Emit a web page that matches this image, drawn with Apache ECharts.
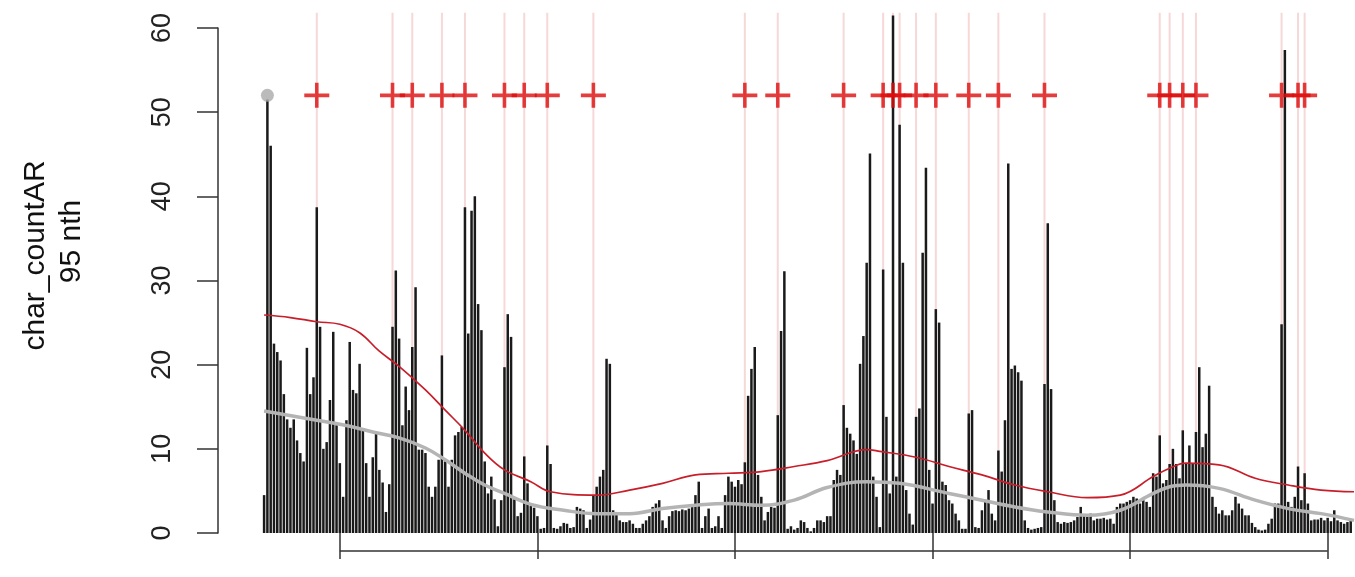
<!DOCTYPE html>
<html>
<head>
<meta charset="utf-8">
<script src="https://cdn.jsdelivr.net/npm/echarts@6.0.0/dist/echarts.min.js"></script>
<style>
  html, body { margin: 0; padding: 0; background: #ffffff; }
  #chart { width: 1355px; height: 577px; }
</style>
</head>
<body>
<div id="chart"></div>
<script>
// first day number of the series; bar i sits at FIRST_DAY + i
const FIRST_DAY = 37;

// char_countAR 95th percentile per day
const charCount95 = [
  4.5, 51.5, 46, 22.5, 21.5, 20.5, 16.5, 13.5, 12.5, 13.5,
  11, 9.5, 8.5, 22, 16.5, 18.5, 38.7, 24.5, 10, 10.8,
  15.8, 23.9, 12.8, 8.3, 4.3, 13.4, 22.7, 17, 16.6, 20.1,
  12.2, 8.3, 4.3, 9, 12, 7.5, 6, 2.5, 5.8, 24.5,
  31.2, 23.1, 12.8, 17.4, 14.6, 22.1, 29.2, 9.9, 9.9, 9.5,
  5.5, 4.3, 5.5, 8.7, 21.1, 8.5, 5.5, 8.7, 11.6, 12,
  12.6, 38.7, 23.7, 38.3, 40, 27.2, 24.1, 8.5, 4.7, 6.7,
  4, 0.8, 3.9, 19.7, 26, 23.3, 4, 2, 2.4, 9.1,
  5.9, 3.2, 3, 2, 0.5, 0.6, 10.4, 8.2, 0.6, 0.5,
  0.8, 1.2, 1.1, 0.6, 0.7, 3.1, 2.9, 2.7, 0.6, 1.6,
  4.5, 5.5, 6.7, 7.5, 20.7, 20.1, 2.7, 2.5, 1.5, 1.3,
  1.3, 1.5, 1.1, 0.6, 0.6, 1.1, 1.5, 2, 3.1, 3.5,
  3.9, 1.5, 0.6, 2, 2.6, 2.7, 2.6, 2.8, 2.7, 2.9,
  3.3, 4.5, 6.1, 0.6, 2, 2.9, 0.6, 0.8, 2, 0.6,
  4.5, 6.7, 6.1, 5.5, 6.3, 5.8, 8.4, 16.3, 19.5, 22.1,
  6.9, 4.3, 1.5, 2.5, 3.1, 3, 14, 24, 31.1, 0.5,
  0.8, 0.4, 0.6, 1.5, 1.3, 0.6, 0.2, 0.6, 1.5, 1.5,
  1.3, 2, 2, 6.3, 7.5, 6.9, 15.2, 12.5, 11.8, 11,
  9.4, 20.1, 23.4, 32.1, 45.1, 6.7, 4.3, 0.7, 31.3, 13.8,
  4.7, 61.5, 6.7, 48.5, 32.1, 5.1, 2.3, 1, 13.8, 14.8,
  33.3, 43.4, 7.5, 3.5, 26.6, 25, 6.1, 5.7, 3.9, 3.5,
  2.3, 1.5, 0.5, 0.5, 14.2, 14.6, 0.7, 0.6, 2.7, 3.7,
  5.1, 2.3, 1.5, 9.8, 7.3, 13.4, 43.9, 19.5, 19.9, 19.1,
  18.1, 1.5, 0.6, 0.4, 0.5, 0.6, 0.7, 17.7, 36.8, 17.1,
  3.9, 1.3, 1.1, 1.3, 1.2, 1.3, 1.5, 1.9, 3.1, 2.1,
  1.9, 2.3, 1.5, 1.7, 1.7, 1.8, 1.6, 1.7, 1.1, 3.1,
  3.5, 3.5, 3.7, 3.9, 4.3, 4.1, 3.5, 3.9, 3.7, 3.1,
  7.1, 6.7, 11.6, 5.9, 6.3, 8.2, 10, 8.2, 6.5, 12.2,
  8.2, 10.4, 8.2, 12, 19.7, 10.2, 11.8, 17.5, 4.3, 3.1,
  2.3, 2.7, 2.1, 2.1, 2.7, 4.3, 3.5, 2.9, 2.1, 2.1,
  1.2, 0.7, 0.4, 0.3, 0.4, 1.1, 1.7, 3.5, 3.5, 24.8,
  57.4, 3.7, 3.1, 4.3, 7.9, 3.9, 7.1, 3.5, 1.5, 1.6,
  1.6, 1.8, 1.5, 1.8, 1.4, 2.7, 1.5, 1.3, 1.1, 1.3,
  1.5
];

// days flagged with a red cross and a pale guide line
const flaggedDays = [
  53, 76, 82, 91, 98, 110, 116, 123, 137,
  183, 193, 213, 225, 228, 230, 235, 241, 251, 260, 274,
  309, 312, 316, 320, 346, 351, 353
];
const FLAG_LEVEL = 52;
const GUIDE_TOP = 61.8;

// highlighted day (grey dot)
const peakDay = [38, 52];

// smoothed upper band (red) and smoothed mean (grey)
const upperDays = [37, 45, 53, 60, 66, 72, 78, 86, 92, 98, 104, 110, 118, 124, 138, 148, 158, 168, 178, 188, 198, 208, 220, 224, 235, 245, 255, 265, 275, 287, 297, 307, 312, 317, 327, 338, 348, 358, 368];
const upperVals = [25.9, 25.6, 25.1, 24.8, 23.8, 21.6, 19.8, 17, 14.6, 12.2, 9.5, 7.5, 6.1, 4.9, 4.5, 5.1, 5.9, 6.9, 7.1, 7.3, 7.9, 8.6, 9.9, 9.7, 9.0, 7.9, 6.9, 5.7, 4.9, 4.2, 4.5, 6.7, 7.7, 8.3, 8.1, 6.5, 5.7, 5.1, 4.9];
const meanDays = [37, 53, 64, 70, 78, 86, 92, 98, 104, 110, 118, 128, 138, 148, 158, 168, 178, 188, 198, 208, 220, 230, 245, 255, 265, 275, 287, 297, 307, 312, 317, 327, 338, 348, 358, 368];
const meanVals = [14.5, 13.4, 12.6, 12, 11.3, 10.1, 8.7, 7.1, 5.7, 4.7, 3.4, 2.7, 2.3, 2.3, 2.9, 3.3, 3.5, 3.3, 3.9, 5.4, 6.1, 5.9, 4.7, 3.9, 3.1, 2.5, 2.1, 2.7, 4.7, 5.5, 5.7, 5.3, 3.9, 2.9, 2.3, 1.5];

// axis ticks
const xTicks = [60, 120, 180, 240, 300, 360];
const yTicks = [0, 10, 20, 30, 40, 50, 60];

const FONT = "'Liberation Sans', Arial, Helvetica, sans-serif";
const AXIS_COLOR = '#333333';

const barData = charCount95.map((v, i) => [FIRST_DAY + i, v]);
const flagData = flaggedDays.map(d => [d, FLAG_LEVEL]);
const upperData = upperDays.map((d, i) => [d, upperVals[i]]);
const meanData = meanDays.map((d, i) => [d, meanVals[i]]);

const plusPath = 'path://M0,10.7 L25,10.7 L25,14.3 L0,14.3 Z M10.7,0 L14.3,0 L14.3,25 L10.7,25 Z';

const chart = echarts.init(document.getElementById('chart'), null, { renderer: 'canvas' });

chart.setOption({
  animation: false,
  backgroundColor: '#ffffff',
  grid: { left: 218, right: 0, top: 28, bottom: 44, containLabel: false, outerBoundsMode: 'none' },
  xAxis: {
    type: 'value',
    min: 23,
    max: 368.3,
    offset: 18,
    splitLine: { show: false },
    axisLine: { show: false },
    axisLabel: { show: false },
    axisTick: {
      show: true,
      customValues: xTicks,
      length: 26,
      lineStyle: { color: AXIS_COLOR, width: 1.5 }
    }
  },
  yAxis: {
    type: 'value',
    min: 0,
    max: 60,
    interval: 10,
    splitLine: { show: false },
    axisLine: { show: true, lineStyle: { color: AXIS_COLOR, width: 1.5 } },
    axisTick: { show: true, length: 21, lineStyle: { color: AXIS_COLOR, width: 1.5 } },
    axisLabel: {
      rotate: 90,
      margin: 42,
      fontSize: 27,
      fontFamily: FONT,
      color: '#222222',
      customValues: yTicks
    },
    name: '{a|char_countAR}\n{b|95 nth}',
    nameLocation: 'middle',
    nameRotate: 90,
    nameGap: 128,
    nameTextStyle: {
      fontFamily: FONT,
      fontSize: 30,
      color: '#111111',
      lineHeight: 36,
      padding: [0, 0, 0, 50],
      rich: {
        a: { fontFamily: FONT, fontSize: 30, color: '#111111', lineHeight: 36 },
        b: { fontFamily: FONT, fontSize: 30, color: '#111111', lineHeight: 36, padding: [0, 0, 0, 28] }
      }
    }
  },
  series: [
    {
      // pale vertical guide at every flagged day, reaching above the top tick
      name: 'guides',
      type: 'custom',
      z: 1,
      silent: true,
      clip: false,
      data: flaggedDays.map(d => [d, GUIDE_TOP]),
      renderItem: function (params, api) {
        const bottom = api.coord([api.value(0), 0]);
        const top = api.coord([api.value(0), api.value(1)]);
        return {
          type: 'line',
          shape: { x1: bottom[0], y1: bottom[1], x2: top[0], y2: top[1] },
          style: { stroke: '#f6d8d8', lineWidth: 2 }
        };
      }
    },
    {
      name: 'char_countAR_95nth',
      type: 'bar',
      z: 2,
      clip: false,
      barWidth: 2.5,
      itemStyle: { color: '#1a1a1a' },
      data: barData
    },
    {
      name: 'upper',
      type: 'line',
      z: 3,
      smooth: 0.4,
      showSymbol: false,
      lineStyle: { color: '#c81e2a', width: 1.7 },
      data: upperData
    },
    {
      name: 'mean',
      type: 'line',
      z: 3,
      smooth: 0.4,
      showSymbol: false,
      lineStyle: { color: '#b4b4b4', width: 3.5 },
      data: meanData
    },
    {
      name: 'flagged',
      type: 'scatter',
      z: 4,
      symbol: plusPath,
      symbolSize: [25, 25],
      itemStyle: { color: '#dd0c0c' },
      data: flagData
    },
    {
      name: 'peak',
      type: 'scatter',
      z: 4,
      symbol: 'circle',
      symbolSize: 13,
      itemStyle: { color: '#aaaaaa' },
      data: [peakDay]
    }
  ]
});

// R-style bottom axis: the line only spans the first to the last tick
const x0 = chart.convertToPixel({ xAxisIndex: 0 }, xTicks[0]);
const x1 = chart.convertToPixel({ xAxisIndex: 0 }, xTicks[xTicks.length - 1]);
const yBase = chart.convertToPixel({ yAxisIndex: 0 }, 0) + 18;
chart.setOption({
  graphic: [{
    type: 'line',
    shape: { x1: x0, y1: yBase, x2: x1, y2: yBase },
    style: { stroke: AXIS_COLOR, lineWidth: 1.5 },
    silent: true
  }]
});
</script>
</body>
</html>
